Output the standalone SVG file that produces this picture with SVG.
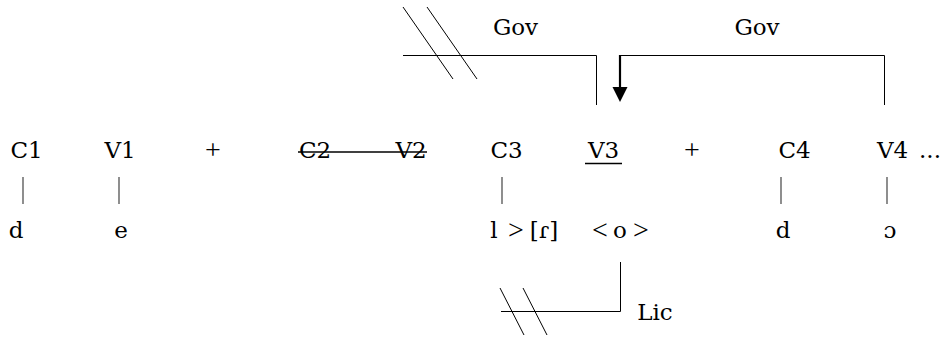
<svg xmlns="http://www.w3.org/2000/svg" width="945" height="337" viewBox="0 0 945 337">
<style>
.t { font-family: 'DejaVu Serif', serif; font-size: 23px; fill: #000; text-anchor: middle; }
.op { font-family: 'Liberation Serif', 'DejaVu Serif', serif; font-size: 28px; }
.ln { stroke: #000; stroke-width: 1.5; fill: none; }
.thin { stroke: #000; stroke-width: 1; fill: none; }
.assoc { stroke: #444; stroke-width: 1.2; }
</style>
<rect width="945" height="337" fill="#fff"/>
<g class="t" font-family="DejaVu Serif, serif">
<g id="C1"><text x="26.5" y="158">C1</text><text x="16" y="238">d</text></g>
<g id="V1"><text x="120" y="158">V1</text><text x="121" y="238">e</text></g>
<g id="plus1"><text class="op" x="213" y="159">+</text></g>
<g id="C2"><text x="315" y="158">C2</text></g>
<g id="V2"><text x="411" y="158">V2</text></g>
<g id="C3"><text x="506.5" y="158">C3</text>
<text x="494" y="238">l</text><text class="op" x="516" y="239">&gt;</text><text x="544" y="238">[ɾ]</text></g>
<g id="V3"><text x="603.5" y="158">V3</text>
<text class="op" x="600" y="239">&lt;</text><text x="620" y="238">o</text><text class="op" x="641" y="239">&gt;</text></g>
<g id="plus2"><text class="op" x="692" y="159">+</text></g>
<g id="C4"><text x="794.5" y="158">C4</text><text x="783" y="238">d</text></g>
<g id="V4"><text x="892.5" y="158">V4</text><text x="930" y="158">...</text><text x="890" y="238">ɔ</text></g>
<g id="labels">
<text x="515.5" y="35">Gov</text>
<text x="757" y="35">Gov</text>
<text x="655" y="320">Lic</text>
</g>
</g>

<g id="connectors">
<line class="ln" x1="298" y1="152" x2="427" y2="152"/>
<line class="ln" x1="585" y1="163.5" x2="622" y2="163.5"/>
<line class="assoc" x1="23" y1="177" x2="23" y2="204"/>
<line class="assoc" x1="119" y1="177" x2="119" y2="204"/>
<line class="assoc" x1="502" y1="177" x2="502" y2="204"/>
<line class="assoc" x1="781" y1="177" x2="781" y2="204"/>
<line class="assoc" x1="887" y1="177" x2="887" y2="204"/>
<polyline class="thin" points="403,55.5 596.5,55.5 596.5,105"/>
<line class="thin" x1="403" y1="7" x2="453" y2="79"/>
<line class="thin" x1="427" y1="7" x2="477" y2="79"/>
<polyline class="thin" points="884.5,105 884.5,55.5 620,55.5"/>
<line x1="620" y1="55" x2="620" y2="88" stroke="#000" stroke-width="2.2"/>
<polygon points="612.5,87 627.5,87 620,102" fill="#000"/>
<polyline class="thin" points="620.5,262 620.5,311.5 501,311.5"/>
<line class="thin" x1="500" y1="288" x2="524" y2="335"/>
<line class="thin" x1="523" y1="288" x2="547" y2="335"/>
</g>
</svg>
